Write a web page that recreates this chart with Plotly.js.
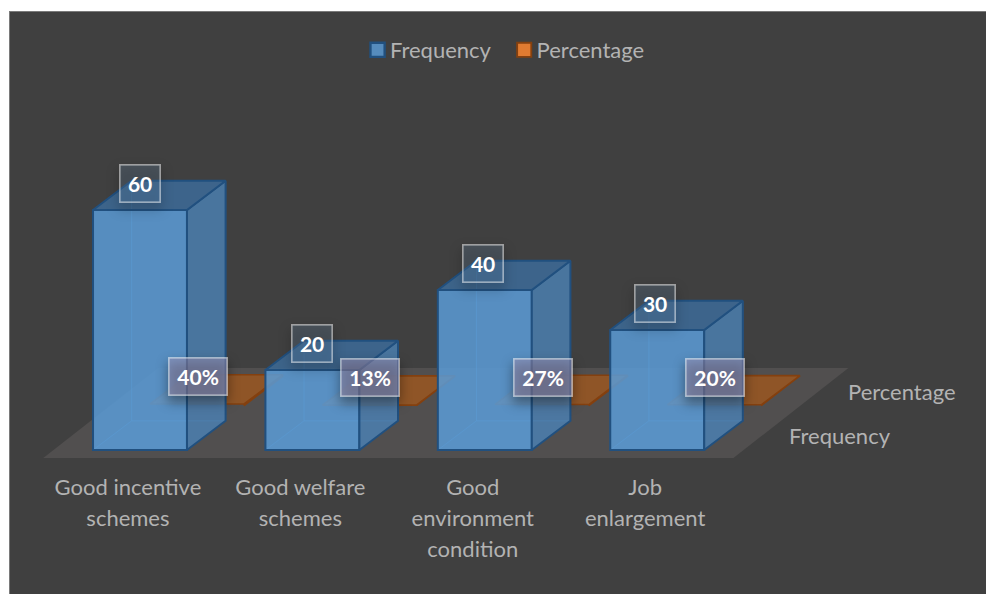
<!DOCTYPE html>
<html>
<head>
<meta charset="utf-8">
<script src="https://cdn.plot.ly/plotly-3.0.1.min.js"></script>
<style>
  html, body { margin: 0; padding: 0; background: #ffffff; width: 986px; height: 594px; overflow: hidden; }
  #frame { position: absolute; left: 9px; top: 11px; width: 976px; height: 582px;
           border-left: 1px solid #7a7a7a; border-top: 1px solid #7a7a7a; }
  #chart { width: 976px; height: 582px; }
  .annotation rect.bg { filter: drop-shadow(0 6px 6px rgba(0,0,0,.8)); }
  .legend .legendpoints { transform: translateX(4px) scale(1.18); }
</style>
</head>
<body>
<div id="frame"><div id="chart"></div></div>
<script>
// Survey responses
const categories = ['Good incentive<br>schemes', 'Good welfare<br>schemes',
                    'Good<br>environment<br>condition', 'Job<br>enlargement'];
const frequency = [60, 20, 40, 30];
const percentage = [0.40, 0.13, 0.27, 0.20];
const percentLabels = ['40%', '13%', '27%', '20%'];
const seriesNames = ['Frequency', 'Percentage'];

// Oblique projection, in axis units: 172.4 px per category, 4 px per value unit
const barWidth = 0.545;
const depth = { x: 0.224, y: 7.3 };       // how far a box recedes
const row = { x: 0.331, y: 11.1 };        // offset of the second series row
const positions = categories.map((_, i) => i);
const xRange = [-0.754, 4.907], yRange = [-5, 109.5];

const BLUE_EDGE = '#21507f', ORANGE_EDGE = '#84400f';

// One flat polygon of a box; front subplot traces sit above everything on the base subplot
function face(xs, ys, fill, edge, width, front) {
  return { type: 'scatter', mode: 'lines', x: xs.concat(xs[0]), y: ys.concat(ys[0]),
           xaxis: front ? 'x2' : 'x', yaxis: front ? 'y2' : 'y', cliponaxis: false,
           fill: 'toself', fillcolor: fill, showlegend: false, hoverinfo: 'skip',
           line: { color: edge, width: width === undefined ? 1.6 : width } };
}

const traces = [];

// Floor of the chart
const floor = { x0: -0.561, x1: 3.442, front: -2, run: 0.667, rise: 22.5 };
traces.push(face([floor.x0, floor.x1, floor.x1 + floor.run, floor.x0 + floor.run],
                 [floor.front, floor.front, floor.front + floor.rise, floor.front + floor.rise],
                 '#514f4f', 'rgba(0,0,0,0)', 0));

// Second row: nearly flat boxes, because the values are fractions
traces.push({ type: 'bar', name: seriesNames[1], x: positions.map(p => p + row.x),
              y: percentage, base: positions.map(() => row.y), width: barWidth,
              marker: { color: '#e07b31', line: { color: ORANGE_EDGE, width: 1.6 } }, hoverinfo: 'skip' });
percentage.forEach((v, i) => {
  const l = i + row.x - barWidth / 2, r = i + row.x + barWidth / 2, b = row.y, t = row.y + v;
  traces.push(face([r, r + depth.x, r + depth.x, r], [b, b + depth.y, t + depth.y, t], '#7a4a25', ORANGE_EDGE));
  traces.push(face([l, r, r + depth.x, l + depth.x], [t, t, t + depth.y, t + depth.y], '#8f5527', ORANGE_EDGE));
});

// First row: back, left and floor faces show through the translucent front
frequency.forEach((v, i) => {
  const l = i - barWidth / 2, r = i + barWidth / 2;
  traces.push(face([l + depth.x, r + depth.x, r + depth.x, l + depth.x],
                   [depth.y, depth.y, v + depth.y, v + depth.y], 'rgba(91,155,213,0.16)', 'rgba(91,155,213,0.35)', 1));
  traces.push(face([l, l + depth.x, l + depth.x, l], [0, depth.y, v + depth.y, v], 'rgba(91,155,213,0.10)', 'rgba(91,155,213,0.30)', 1));
  traces.push(face([l, r, r + depth.x, l + depth.x], [0, 0, depth.y, depth.y], 'rgba(91,155,213,0.22)', 'rgba(91,155,213,0.30)', 1));
});
traces.push({ type: 'bar', name: seriesNames[0], x: positions, y: frequency, width: barWidth,
              xaxis: 'x2', yaxis: 'y2',
              marker: { color: 'rgba(91,155,213,0.84)', line: { color: BLUE_EDGE, width: 2 } }, hoverinfo: 'skip' });
frequency.forEach((v, i) => {
  const l = i - barWidth / 2, r = i + barWidth / 2;
  traces.push(face([r, r + depth.x, r + depth.x, r], [0, depth.y, v + depth.y, v], 'rgba(74,126,175,0.82)', BLUE_EDGE, 2, true));
  traces.push(face([l, r, r + depth.x, l + depth.x], [v, v, v + depth.y, v + depth.y], 'rgba(60,104,148,0.85)', BLUE_EDGE, 2, true));
});

// Value boxes
const labelFont = { family: 'Lato, Carlito, sans-serif', size: 21, color: '#ffffff', weight: 700 };
const boxLine = 'rgba(255,255,255,0.5)';
const annotations = [];
frequency.forEach((v, i) => annotations.push({
  x: i * 0.995, y: v + 6.6, text: String(v), showarrow: false, font: labelFont, width: 39, height: 36,
  bgcolor: 'rgba(130,180,230,0.16)', bordercolor: boxLine, borderwidth: 1.6, borderpad: 0
}));
percentage.forEach((v, i) => annotations.push({
  x: i + 0.336, y: v + 17.9, text: percentLabels[i], showarrow: false, font: labelFont, width: 57, height: 36,
  bgcolor: 'rgba(170,150,185,0.46)', bordercolor: boxLine, borderwidth: 1.6, borderpad: 0
}));

// Labels of the depth axis
const textFont = { family: 'Lato, Carlito, sans-serif', size: 22, color: '#b3b3b3' };
annotations.push({ x: 4.06, y: 3.7, text: seriesNames[0], showarrow: false, font: textFont });
annotations.push({ x: 4.42, y: 14.7, text: seriesNames[1], showarrow: false, font: textFont });

const layout = {
  width: 976, height: 582,
  margin: { l: 0, r: 0, t: 0, b: 124, pad: 0 },
  paper_bgcolor: '#404040', plot_bgcolor: 'rgba(0,0,0,0)',
  barmode: 'overlay', showlegend: true, hovermode: false,
  xaxis: { range: xRange, tickmode: 'array', tickvals: positions.map(p => p - 0.07), ticktext: categories,
           showgrid: false, zeroline: false, showline: false, ticks: '', fixedrange: true,
           ticklabelstandoff: 2, tickfont: textFont, automargin: false },
  yaxis: { range: yRange, visible: false, fixedrange: true },
  xaxis2: { range: xRange, overlaying: 'x', visible: false, fixedrange: true },
  yaxis2: { range: yRange, overlaying: 'y', visible: false, fixedrange: true },
  legend: { orientation: 'h', x: 0.502, xanchor: 'center', y: 0.917, yanchor: 'middle', traceorder: 'reversed',
            font: textFont, bgcolor: 'rgba(0,0,0,0)', itemclick: false, itemdoubleclick: false },
  annotations: annotations
};

Plotly.newPlot('chart', traces, layout, { displayModeBar: false, staticPlot: true }).then(gd => {
  // Open up the line spacing inside the wrapped category labels
  gd.querySelectorAll('.xtick text').forEach(t => {
    t.querySelectorAll('tspan.line').forEach((s, i) => s.setAttribute('dy', (i * 1.41) + 'em'));
  });
});
</script>
</body>
</html>
